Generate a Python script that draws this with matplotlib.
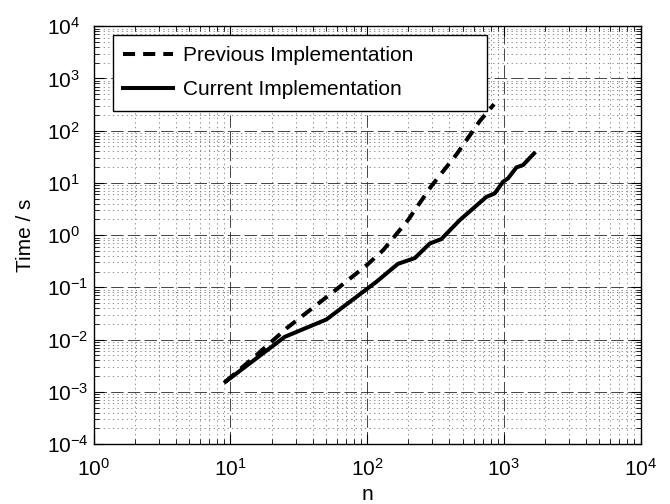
import matplotlib
matplotlib.use('Agg')
import matplotlib.pyplot as plt
import numpy as np
from matplotlib.patches import Rectangle
from matplotlib.ticker import LogLocator, NullFormatter

plt.rcParams['font.family'] = ['Liberation Sans', 'DejaVu Sans']
plt.rcParams['mathtext.fontset'] = 'custom'
plt.rcParams['mathtext.rm'] = 'Liberation Sans'
plt.rcParams['mathtext.it'] = 'Liberation Sans:italic'

# data (n vs time in seconds)
n_prev = [9.2, 15.9, 25.7, 59.6, 100, 131, 199, 295, 450, 666, 848]
t_prev = [1.56e-3, 5.35e-3, 0.0164, 0.0914, 0.27, 0.516, 1.94, 8.7, 35, 152, 321]

n_curr = [9.2, 25, 50.4, 117, 168, 223, 287, 349, 476, 746, 858, 986, 1073, 1237, 1381, 1663]
t_curr = [1.56e-3, 0.0113, 0.0243, 0.128, 0.282, 0.363, 0.69, 0.84, 1.94, 5.4, 6.3,
          10.5, 12.2, 19.8, 21.9, 36.6]

x_decades = [1, 10, 100, 1000, 10000]
y_decades = [1e-4, 1e-3, 1e-2, 1e-1, 1, 10, 100, 1000, 10000]

labels = ['Previous Implementation', 'Current Implementation']

fig = plt.figure(figsize=(6.7, 5.04), dpi=100)
ax = fig.add_axes([0.140, 0.119, 0.816, 0.829])

ax.loglog(n_prev, t_prev, color='black', lw=2.9, linestyle=(0, (3, 2)), label=labels[0])
ax.loglog(n_curr, t_curr, color='black', lw=2.9, label=labels[1])

ax.set_xticks(x_decades)
ax.set_yticks(y_decades)
ax.xaxis.set_minor_locator(LogLocator(base=10, subs=np.arange(2, 10), numticks=100))
ax.yaxis.set_minor_locator(LogLocator(base=10, subs=np.arange(2, 10), numticks=100))
ax.xaxis.set_minor_formatter(NullFormatter())
ax.yaxis.set_minor_formatter(NullFormatter())
ax.set_xlim(1, 1e4)
ax.set_ylim(1e-4, 1e4)

ax.grid(which='major', linestyle=(0, (15, 5)), lw=0.6, color='0.15')
ax.grid(which='minor', linestyle=(0, (1.5, 4)), lw=0.6, color='0.45')

ax.tick_params(which='both', direction='in', top=True, right=True, labelsize=15)
ax.tick_params(axis='x', pad=10)
ax.tick_params(axis='y', pad=33.5)
ax.tick_params(which='major', length=7, width=0.8)
ax.tick_params(which='minor', length=3.5, width=0.6)
for s in ax.spines.values():
    s.set_linewidth(1.0)

ax.set_xlabel('n', fontsize=15, labelpad=3.5)
ax.set_ylabel('Time / s', fontsize=15, labelpad=9)

# legend box drawn separately so its size matches the original
ax.add_patch(Rectangle((0.0353, 0.797), 0.683, 0.183, transform=ax.transAxes,
                       facecolor='white', edgecolor='black', lw=1.0, zorder=4))
leg = ax.legend(loc='center left', bbox_to_anchor=(0.053, 0.889), frameon=False,
                fontsize=15, handlelength=2.4, handletextpad=0.5, borderpad=0,
                labelspacing=0.72, borderaxespad=0)
leg.set_zorder(5)

fig.canvas.draw()
for lab in ax.get_yticklabels():
    lab.set_horizontalalignment('left')

plt.savefig('out.png', dpi=100)
